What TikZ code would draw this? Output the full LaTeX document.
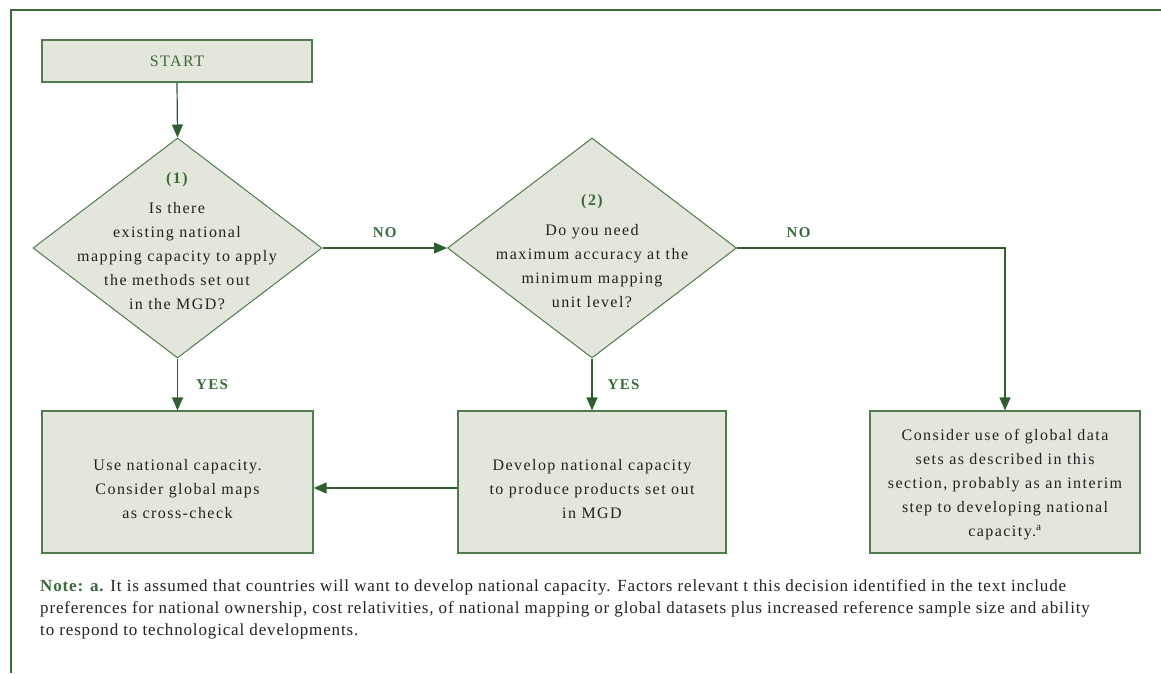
\documentclass[tikz,border=0pt]{standalone}
\usepackage{fontspec}
\setmainfont{Liberation Serif}
\newfontfamily\spc[LetterSpace=9]{Liberation Serif}
\newfontfamily\notefont[LetterSpace=5]{Liberation Serif}
\usetikzlibrary{shapes.geometric,arrows.meta}
\definecolor{fillc}{HTML}{E3E6DA}
\definecolor{edgec}{HTML}{4F7B4F}
\definecolor{greentxt}{HTML}{3B6B3B}
\definecolor{arrc}{HTML}{2F5F2F}
\definecolor{framec}{HTML}{3B6A3B}
\definecolor{bodytxt}{HTML}{222222}
\begin{document}
\begin{tikzpicture}[x=1pt,y=-1pt,
  boxnode/.style={draw=edgec, line width=1.2pt, fill=fillc, inner sep=0pt},
  dianode/.style={diamond, draw=edgec, line width=1pt, fill=fillc, inner sep=0pt, minimum width=289pt, minimum height=220pt},
  bodytext/.style={align=center, text=bodytxt, font=\spc\fontsize{16}{24}\selectfont},
  lab/.style={text=greentxt, font=\spc\fontsize{15}{18}\selectfont\bfseries, inner sep=0pt},
  arr/.style={draw=arrc, line width=1.2pt, -{Triangle[length=13pt,width=11pt]}},
]
\useasboundingbox (0,0) rectangle (1161,673);
% frame
\draw[framec, line width=2pt] (11,673) -- (11,10) -- (1161,10);

% nodes
\node[boxnode, minimum width=270pt, minimum height=42pt, text=greentxt, font=\spc\fontsize{16}{20}\selectfont] (start) at (177,61) {START};

\node[dianode] (d1) at (177.5,248) {};
\node[bodytext] (t1) at (177,241) {{\color{greentxt}\bfseries (1)}\\[6pt]Is there\\existing national\\mapping capacity to apply\\the methods set out\\in the MGD?};

\node[dianode] (d2) at (592,248) {};
\node[bodytext] (t2) at (592,251) {{\color{greentxt}\bfseries (2)}\\[6pt]Do you need\\maximum accuracy at the\\minimum mapping\\unit level?};

\node[boxnode, minimum width=271pt, minimum height=142pt] (b1) at (177.5,482) {};
\node[bodytext] (bt1) at (177.5,489) {Use national capacity.\\Consider global maps\\as cross-check};

\node[boxnode, minimum width=268pt, minimum height=142pt] (b2) at (592,482) {};
\node[bodytext] (bt2) at (592,489) {Develop national capacity\\to produce products set out\\in MGD};

\node[boxnode, minimum width=270pt, minimum height=142pt] (b4) at (1005,482) {};
\node[bodytext] (bt4) at (1005,485) {Consider use of global data\\sets as described in this\\section, probably as an interim\\step to developing national\\capacity.\textsuperscript{a}};

% connectors
\draw[arr] (start.south) -- (d1.north);
\draw[arr] (d1.east) -- node[lab, above=10pt] {NO} (d2.west);
\draw[arr] (d2.east) -- node[lab, above=10pt, pos=0.23] {NO} (b4.north |- d2.east) -- (b4.north);
\draw[arr] (d1.south) -- node[lab, right=18pt] {YES} (b1.north);
\draw[arr] (d2.south) -- node[lab, right=15pt] {YES} (b2.north);
\draw[arr] ([yshift=-6pt]b2.west) -- ([yshift=-6pt]b1.east);

% note
\node[anchor=north west, align=left, inner sep=0pt, text=bodytxt, font=\notefont\fontsize{17}{22}\selectfont] (note) at (40,579) {{\color{greentxt}\bfseries Note: a.} It is assumed that countries will want to develop national capacity. Factors relevant t this decision identified in the text include\\preferences for national ownership, cost relativities, of national mapping or global datasets plus increased reference sample size and ability\\to respond to technological developments.};
\end{tikzpicture}
\end{document}
